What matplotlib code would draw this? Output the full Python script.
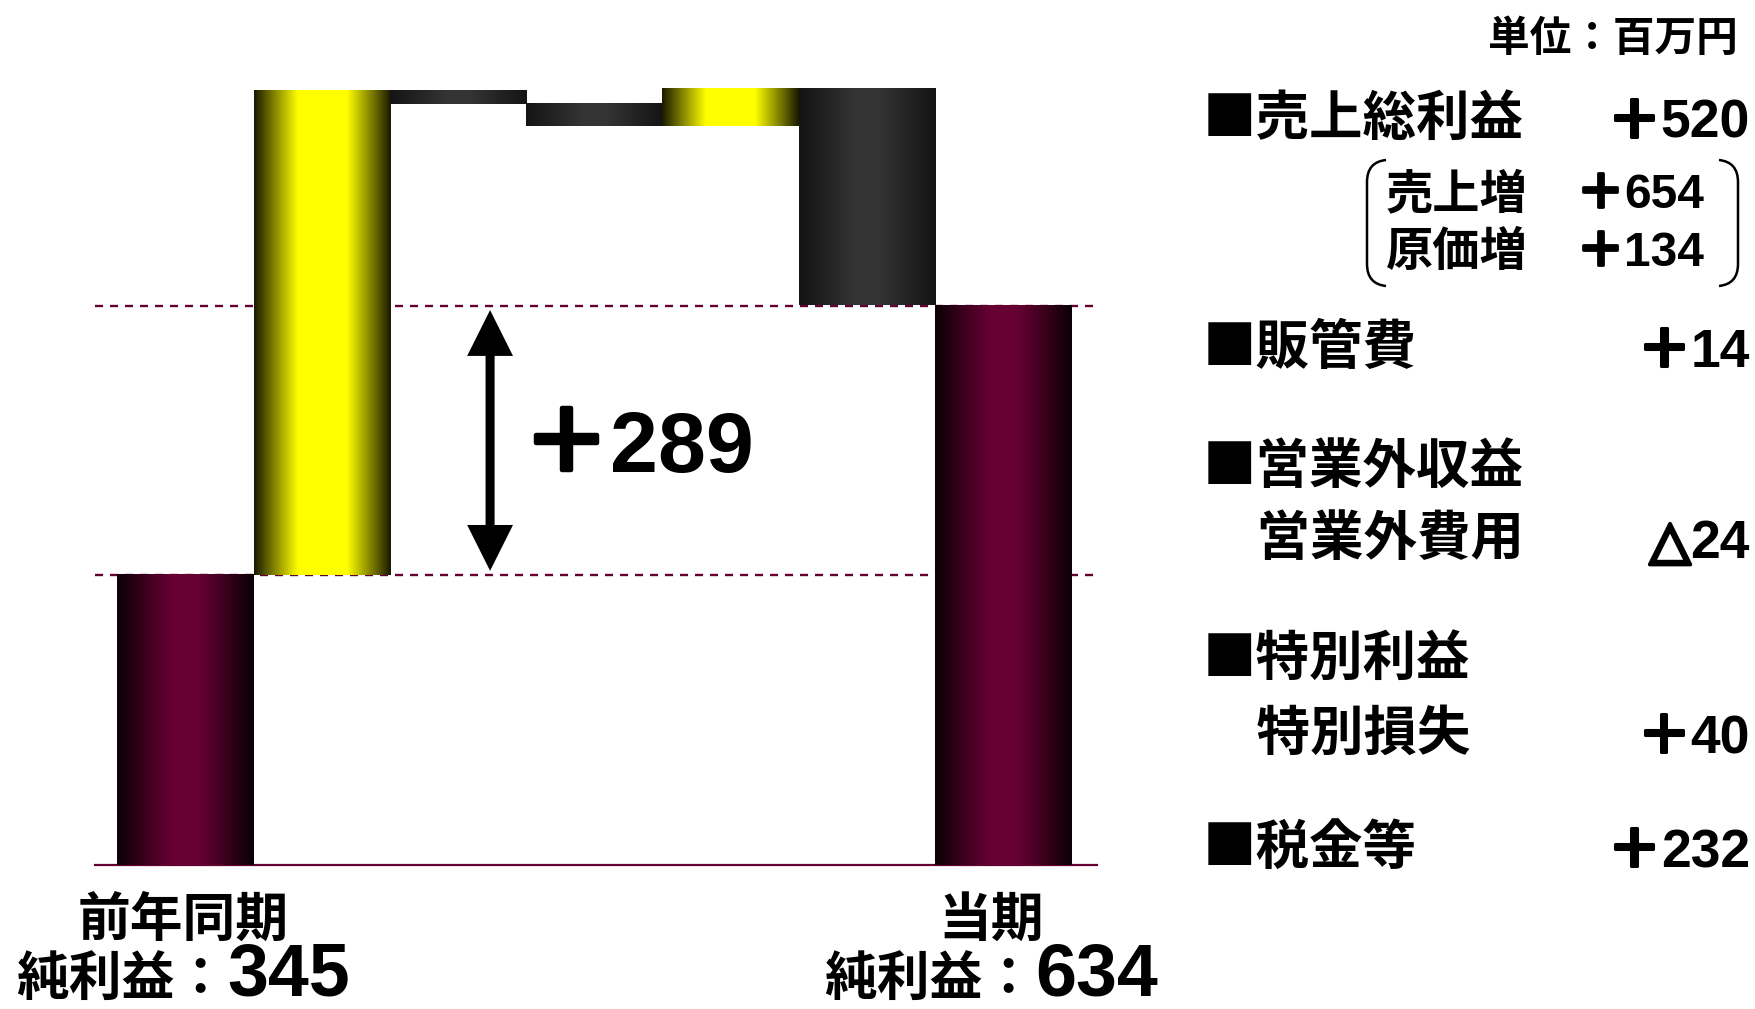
import numpy as np
import matplotlib
matplotlib.use("Agg")
import matplotlib.pyplot as plt
import matplotlib.patheffects as pe
from matplotlib.colors import LinearSegmentedColormap
from matplotlib.path import Path
from matplotlib.patches import PathPatch
from matplotlib import transforms
from matplotlib.offsetbox import TextArea, HPacker, AnnotationBbox

plt.rcParams["lines.scale_dashes"] = False

JP = ["Noto Sans CJK JP", "DejaVu Sans"]
NUM = ["Liberation Sans", "Noto Sans CJK JP", "DejaVu Sans"]
SYM = ["Liberation Sans", "DejaVu Sans"]

# ---- waterfall data (単位：百万円) ----
categories = ["前年同期", "売上総利益", "販管費", "営業外損益", "特別損益", "税金等", "当期"]
start_value = 345
changes = [520, -14, -24, 40, -232]
end_value = 634
net_label = "純利益："

# ---- breakdown panel ----
panel_labels = ["■売上総利益", "■販管費", "■営業外収益", "　営業外費用",
                "■特別利益", "　特別損失", "■税金等"]
panel_values = ["＋520", "＋14", "", "△24", "", "＋40", "＋232"]
sub_labels = ["売上増", "原価増"]
sub_values = ["＋654", "＋134"]
unit_text = "単位：百万円"

# ---- figure ----
W, H = 1755, 1009
fig = plt.figure(figsize=(W / 100, H / 100), dpi=100, facecolor="white")
renderer = fig.canvas.get_renderer()


def fx(px):
    return px / W


def fy(py):
    return 1 - py / H


def signed_value(px_right, py_base, text, size, fam, stroke):
    """Right-aligned value; the leading sign is set separately, a little heavier."""
    digits = fig.text(fx(px_right), fy(py_base), text[1:], ha="right", va="baseline",
                      fontsize=size, fontweight="bold", family=fam)
    x0 = digits.get_window_extent(renderer).x0
    fig.text(x0 / fig.bbox.width, fy(py_base), text[0], ha="right", va="baseline",
             fontsize=size, fontweight="bold", family=fam,
             path_effects=[pe.withStroke(linewidth=stroke, foreground="black")])


ax = fig.add_axes([fx(95), (H - 865) / H, (1097 - 95) / W, (865 - 40) / H])

levels = start_value + np.concatenate([[0], np.cumsum(changes)])
x = np.arange(len(categories))
heights = [start_value] + list(changes) + [end_value]
bottoms = [0] + list(levels[:-1]) + [0]
kinds = ["total"] + ["up" if c > 0 else "down" for c in changes] + ["total"]


def shade(name, edge, mid, center, knee):
    return LinearSegmentedColormap.from_list(
        name, [(0.0, edge), (knee * 0.5, mid), (knee, center), (0.5, center),
               (1 - knee, center), (1 - knee * 0.5, mid), (1.0, edge)])


cmaps = {
    "total": shade("tot", "#0a0005", "#3a001d", "#660033", 0.40),
    "up": shade("up", "#1a1a00", "#8c8c00", "#ffff00", 0.32),
    "down": shade("dn", "#141414", "#232323", "#333333", 0.40),
}
grad = np.linspace(0, 1, 256)[None, :]

bars = ax.bar(x, heights, bottom=bottoms, width=1.0, color="none", linewidth=0, zorder=2)
for rect, kind in zip(bars, kinds):
    x0, w = rect.get_x(), rect.get_width()
    y0 = rect.get_y()
    y1 = y0 + rect.get_height()
    ax.imshow(grad, cmap=cmaps[kind], extent=[x0, x0 + w, min(y0, y1), max(y0, y1)],
              aspect="auto", interpolation="bilinear", zorder=2)

# reference levels for both periods
for lvl in (start_value, end_value):
    ax.axhline(lvl, color="#660033", lw=1.7, ls=(0, (5.8, 5.0)), zorder=1)

ax.set_xlim(-0.665, 6.69)
ax.set_ylim(33.5, 919.6)
ax.set_xticks([])
ax.set_yticks([])
for side in ("top", "left", "right"):
    ax.spines[side].set_visible(False)
ax.spines["bottom"].set_color("#660033")
ax.spines["bottom"].set_linewidth(1.6)
ax.spines["bottom"].set_zorder(1)
ax.patch.set_alpha(0)

# double-headed arrow showing the change in net profit
arrow_x = 2.235
ax.annotate("", xy=(arrow_x, end_value), xytext=(arrow_x, start_value),
            arrowprops=dict(arrowstyle="-", lw=6.5, color="black",
                            shrinkA=22, shrinkB=22))
ax.annotate("", xy=(arrow_x, end_value), xytext=(arrow_x, start_value),
            arrowprops=dict(arrowstyle="<|-|>,head_length=33,head_width=16.5",
                            mutation_scale=1, lw=0, color="black",
                            shrinkA=3, shrinkB=3))
mid = (start_value + end_value) / 2
sign = ax.annotate("＋", xy=(2.48, mid), xytext=(0, -22.5), textcoords="offset points",
                   ha="left", va="baseline", fontsize=62, fontweight="bold", family=NUM,
                   path_effects=[pe.withStroke(linewidth=3.2, foreground="black")])
sign_x1 = sign.get_window_extent(renderer).x1
ax.annotate(f"{end_value - start_value}", xy=(2.48, mid), xytext=(0, -22.5),
            textcoords="offset points", ha="left", va="baseline",
            fontsize=62, fontweight="bold", family=NUM)
digits_art = ax.texts[-1]
x_start = ax.transData.transform((2.48, mid))[0]
digits_art.set_position((sign_x1 - x_start) * 72 / fig.dpi * np.array([1, 0]) + np.array([0, -22.5]))

# period labels under the first and last bars
bt = transforms.blended_transform_factory(ax.transData, fig.transFigure)
for xi, total, dx in ((x[0], start_value, -0.02), (x[-1], end_value, -0.085)):
    ax.text(xi + dx, fy(936), categories[xi], transform=bt, ha="center", va="baseline",
            fontsize=38, fontweight="bold", family=JP, clip_on=False)
    pack = HPacker(children=[
        TextArea(net_label, textprops=dict(fontsize=38, fontweight="bold", family=JP)),
        TextArea(str(total), textprops=dict(fontsize=53, fontweight="bold", family=NUM)),
    ], align="baseline", pad=0, sep=0)
    ab = AnnotationBbox(pack, (xi + dx, fy(976)), xycoords=bt, frameon=False,
                        box_alignment=(0.5, 0.5), pad=0, annotation_clip=False)
    ax.add_artist(ab)

# breakdown panel on the right
fig.text(fx(1738), fy(51), unit_text, ha="right", va="baseline",
         fontsize=30, fontweight="bold", family=JP)

panel_baselines = [135, 364, 483, 555, 675, 750, 864]
for lab, val, b in zip(panel_labels, panel_values, panel_baselines):
    fig.text(fx(1203), fy(b), lab, ha="left", va="baseline",
             fontsize=38.5, fontweight="bold", family=JP)
    if val:
        if val.startswith("△"):
            signed_value(1750, b + 3, val, 38.5, SYM, 2.6)
        else:
            signed_value(1750, b + 3, val, 38.5, NUM, 2.2)

sub_baselines = [208, 266]
for lab, val, b in zip(sub_labels, sub_values, sub_baselines):
    fig.text(fx(1386), fy(b), lab, ha="left", va="baseline",
             fontsize=34, fontweight="bold", family=JP)
    signed_value(1704, b, val, 34.5, NUM, 2.0)


def bracket(x_end, x_line, top, bottom):
    verts = [(x_end, top), (x_line, top + 2), (x_line, top + 22),
             (x_line, bottom - 22), (x_line, bottom - 2), (x_end, bottom)]
    codes = [Path.MOVETO, Path.CURVE3, Path.CURVE3, Path.LINETO, Path.CURVE3, Path.CURVE3]
    verts = [(fx(a), fy(b)) for a, b in verts]
    fig.add_artist(PathPatch(Path(verts, codes), fill=False, lw=1.8,
                             edgecolor="black", transform=fig.transFigure))


bracket(1386, 1367, 160, 286)
bracket(1719, 1738, 160, 286)

fig.savefig("out.png", dpi=100, facecolor="white")
